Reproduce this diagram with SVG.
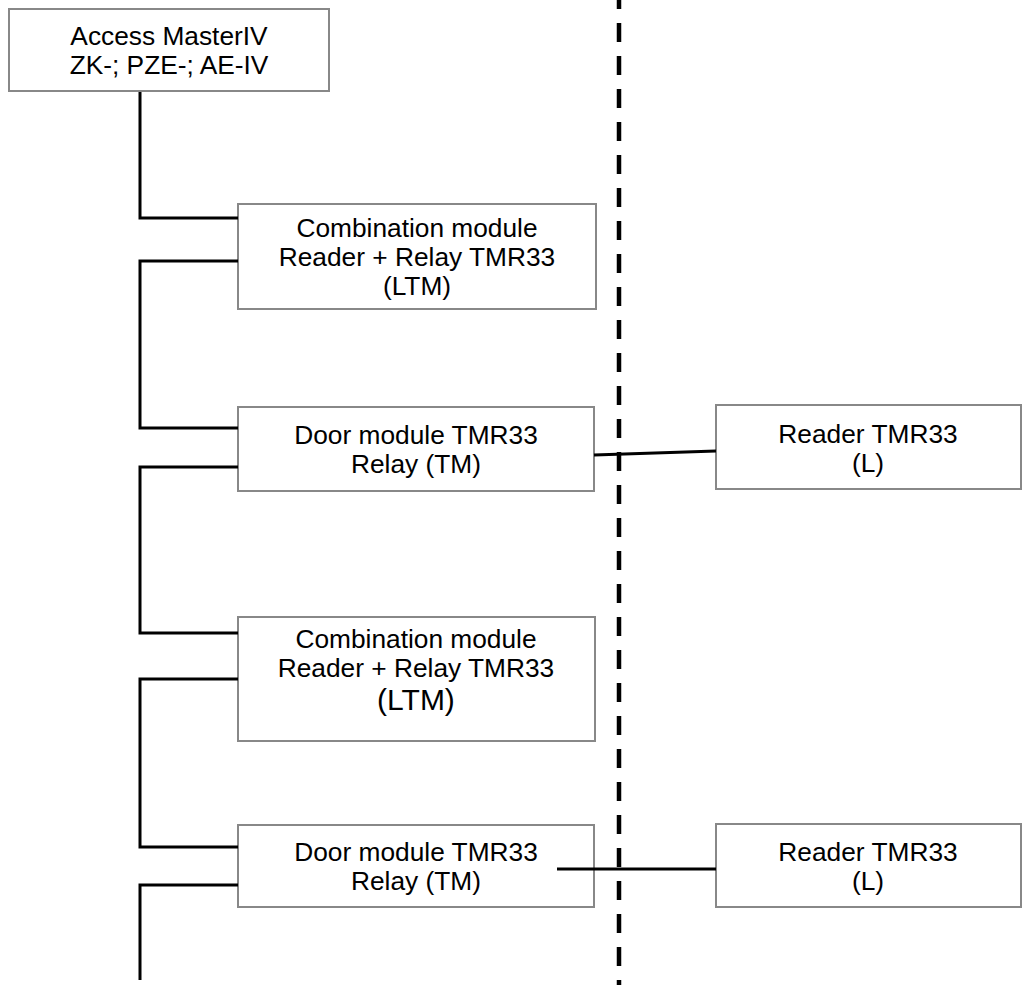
<svg xmlns="http://www.w3.org/2000/svg" width="1024" height="985" viewBox="0 0 1024 985">
<style>
.box{fill:#fff;stroke:#888;stroke-width:2}
.t{font-family:"Liberation Sans",Arial,sans-serif;font-size:26.3px;fill:#000;text-anchor:middle}
.c{fill:none;stroke:#000;stroke-width:3}
.dash{fill:none;stroke:#000;stroke-width:4.5;stroke-dasharray:19 14;stroke-dashoffset:10}
</style>
<rect width="1024" height="985" fill="#fff"/>
<g id="n1"><rect class="box" x="9" y="9" width="320" height="82"/>
<text class="t" x="169" y="45">Access MasterIV</text><text class="t" x="169" y="74">ZK-; PZE-; AE-IV</text></g>
<g id="n2"><rect class="box" x="238" y="204" width="358" height="105"/>
<text class="t" x="417" y="237">Combination module</text><text class="t" x="417" y="266">Reader + Relay TMR33</text><text class="t" x="417" y="295">(LTM)</text></g>
<g id="n3"><rect class="box" x="238" y="407" width="356" height="84"/>
<text class="t" x="416" y="444">Door module TMR33</text><text class="t" x="416" y="473">Relay (TM)</text></g>
<g id="n4"><rect class="box" x="238" y="617" width="357" height="124"/>
<text class="t" x="416" y="648">Combination module</text><text class="t" x="416" y="677">Reader + Relay TMR33</text><text class="t" x="416" y="710" style="font-size:30px">(LTM)</text></g>
<g id="n5"><rect class="box" x="238" y="825" width="356" height="82"/>
<text class="t" x="416" y="861">Door module TMR33</text><text class="t" x="416" y="890">Relay (TM)</text></g>
<g id="n6"><rect class="box" x="716" y="405" width="305" height="84"/>
<text class="t" x="868" y="443">Reader TMR33</text><text class="t" x="868" y="472">(L)</text></g>
<g id="n7"><rect class="box" x="716" y="824" width="305" height="83"/>
<text class="t" x="868" y="861">Reader TMR33</text><text class="t" x="868" y="890">(L)</text></g>
<g id="connectors">
<path class="c" d="M140,92 V218 H238"/>
<path class="c" d="M238,261 H140 V428 H238"/>
<path class="c" d="M238,467 H140 V633 H238"/>
<path class="c" d="M238,679 H140 V847 H238"/>
<path class="c" d="M238,885 H140 V980"/>
<path class="c" d="M594,455 L716,451"/>
<path class="c" d="M557,869 H716"/>
</g>
<g id="divider"><line class="dash" x1="619" y1="0" x2="619" y2="985"/></g>
</svg>
